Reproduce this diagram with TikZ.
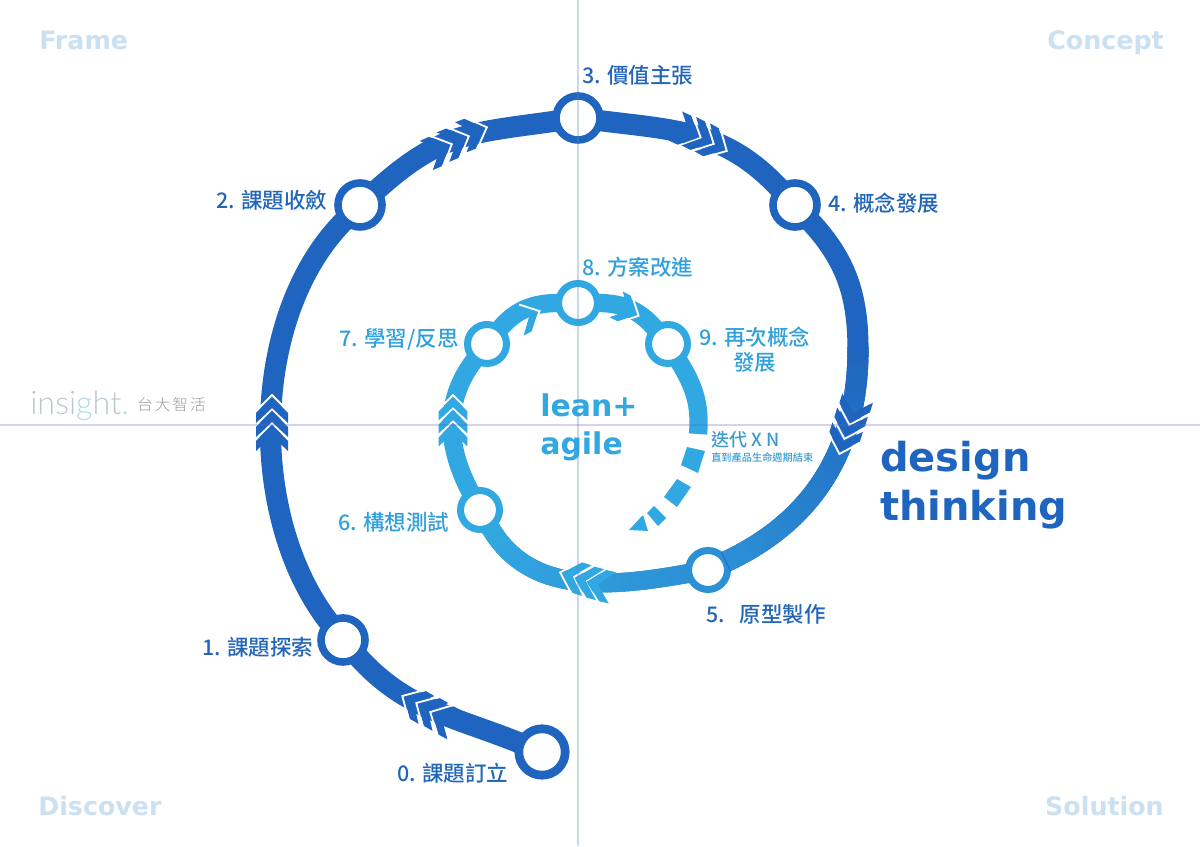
\documentclass[tikz,border=0pt]{standalone}
\usepackage{fontspec}
\usetikzlibrary{decorations.markings}
\setmainfont{Noto Sans CJK TC Medium}
\newfontfamily\boldlatin{DejaVu Sans Bold}
\newfontfamily\logofont{Lato Light}
\newfontfamily\logocjk[LetterSpace=14]{Noto Sans CJK TC Light}
\definecolor{design}{HTML}{1F64BE}
\definecolor{midblue}{HTML}{2C90D5}
\definecolor{lean}{HTML}{31A8E1}
\definecolor{designtext}{HTML}{2366B8}
\definecolor{leantext}{HTML}{30A0DC}
\definecolor{corner}{HTML}{CBE0F1}
\definecolor{logogray}{HTML}{BCC7D0}
\definecolor{logoblue}{HTML}{B5D7E8}
\definecolor{guidev}{HTML}{5A8AC0}
\definecolor{guideh}{HTML}{6A60C8}
\tikzset{
  band/.style={line width=#1, line cap=butt},
  ringnode/.style={circle, fill=white, draw=#1, line width=5.4pt, minimum size=31.3pt, inner sep=0pt, outer sep=0pt},
  smallring/.style={circle, fill=white, draw=#1, line width=5pt, minimum size=27.7pt, inner sep=0pt, outer sep=0pt},
  steplabel/.style={font=\fontsize{15.3}{18}\selectfont, text=#1, inner sep=0pt, anchor=west},
  cornerlabel/.style={font=\boldlatin\fontsize{18}{20}\selectfont, text=corner, inner sep=0pt},
  fadeband/.style n args={3}{postaction={decorate, decoration={markings,
    mark=between positions 0 and 1 step 3pt with {
      \pgfmathsetmacro\fademix{min(100,(\pgfkeysvalueof{/pgf/decoration/mark info/distance from start}/\pgfdecoratedpathlength)*100)}
      \fill[#2!\fademix!#1] (-2pt,-#3) rectangle (2pt,#3);
    }}}},
  chevron/.pic={
    \fill[pic actions] (0,0) -- (-16,16) -- (-26,16) -- (-11,0) -- (-26,-16) -- (-16,-16) -- cycle;
    \draw[white, line width=1.3pt, line join=miter] (-15,17) -- (2,0) -- (-15,-17);
  }
}
\begin{document}
\begin{tikzpicture}[x=0.025cm, y=0.025cm]
    \useasboundingbox (0,0) rectangle (1200,846);
    \coordinate (guidetop) at (578,846);
    \coordinate (guidebottom) at (578,0);
    \coordinate (guideleft) at (0,421);
    \coordinate (guideright) at (1200,421);
    \coordinate (rightmost) at (858,496);
    \coordinate (spiralend) at (698,412);

    % outer loop
    \node[ringnode=design, minimum size=33pt, line width=6.2pt] (n0) at (542,94) {};
    \node[ringnode=design] (n1) at (343,206) {};
    \node[ringnode=design] (n2) at (360,641) {};
    \node[ringnode=design] (n3) at (578,728) {};
    \node[ringnode=design] (n4) at (795,641) {};
    \node[smallring=midblue] (n5) at (708,276) {};
    % inner loop
    \node[smallring=lean] (n6) at (480,336) {};
    \node[smallring=lean] (n7) at (487,502) {};
    \node[smallring=lean] (n8) at (578,543) {};
    \node[smallring=lean] (n9) at (668,502) {};

    \draw[band=15pt, design] (n0) to[out=158, in=-48] (n1);
    \draw[band=15pt, design] (n1) to[out=128, in=-135, looseness=0.85] (n2);
    \draw[band=15pt, design] (n2) to[out=42, in=188, looseness=1.15] (n3);
    \draw[band=15pt, design] (n3) to[out=-7, in=133, looseness=1.05] (n4);
    \draw[band=15pt, design] (n4) to[out=-47, in=90] (rightmost);
    \draw[band=15pt, design, fadeband={design}{midblue}{7.5pt}] (rightmost) to[out=-90, in=25] (n5);
    \draw[band=13.4pt, midblue, fadeband={midblue}{lean}{6.7pt}] (n5) to[out=190, in=-60] (n6);
    \draw[band=13pt, lean] (n6) to[out=118, in=-128] (n7);
    \draw[band=13pt, lean] (n7) to[out=50, in=180] (n8);
    \draw[band=13pt, lean] (n8) to[out=0, in=130] (n9);
    \draw[band=13pt, lean] (n9) to[out=-58, in=85] (spiralend);

    % broken tail of the spiral
    \fill[lean] (687,399) -- (705,395) -- (698,373) -- (681,381) -- cycle;
    \fill[lean] (677,367) -- (691,359) -- (677,339) -- (664,349) -- cycle;
    \fill[lean] (654,340) -- (666,328) -- (658,320) -- (647,333) -- cycle;
    \fill[lean] (643,331) -- (648,315) -- (629,316) -- cycle;

    % chevrons: x/y/heading/colour
    \foreach \cx/\cy/\heading/\cfill in {
      404/149/150/design, 418/142/150/design, 432/133/152/design,
      272/421/90/design, 272/435/90/design, 272/449/90/design,
      450/701/24/design, 467/709/23/design, 485/718/21/design,
      699/709/-25/design, 712/703/-27/design, 725/696/-29/design,
      850/423/-107/design, 845/409/-107/design, 840/394/-107/design,
      587/264/167/lean, 575/268/165/lean, 562/273/163/lean} {
      \pic[fill=\cfill, rotate=\heading] at (\cx,\cy) {chevron};
    }
    \foreach \cx/\cy/\heading in {453/423/90, 453/436/90, 453/449/90, 538/534/27, 637/531/-27} {
      \pic[fill=lean, rotate=\heading, scale=0.9] at (\cx,\cy) {chevron};
    }

    % labels
    \node[steplabel=designtext] (l0) at (397,73) {0. 課題訂立};
    \node[steplabel=designtext] (l1) at (202,199) {1. 課題探索};
    \node[steplabel=designtext] (l2) at (216,646) {2. 課題收斂};
    \node[steplabel=designtext] (l3) at (582,771) {3. 價值主張};
    \node[steplabel=designtext] (l4) at (828,643) {4. 概念發展};
    \node[steplabel=designtext] (l5) at (706,232) {5.\ \ \ 原型製作};
    \node[steplabel=leantext] (l6) at (338,324) {6. 構想測試};
    \node[steplabel=leantext] (l7) at (339,507) {7. 學習/反思};
    \node[steplabel=leantext] (l8) at (582,579) {8. 方案改進};
    \node[steplabel=leantext, align=center] (l9) at (699,496) {9. 再次概念\\發展};

    \node[font=\fontsize{12.8}{14}\selectfont, text=leantext!85!gray, inner sep=0pt, anchor=west] (iter) at (711,406) {迭代 X N};
    \node[font=\fontsize{7.25}{9}\selectfont, text=leantext!85!gray, inner sep=0pt, anchor=west] (iternote) at (711,388) {直到產品生命週期結束};

    \node[font=\boldlatin\fontsize{21.3}{27}\selectfont, text=lean, align=left, inner sep=0pt, anchor=west] (leanagile) at (540,419) {lean+\\agile};
    \node[font=\boldlatin\fontsize{28.4}{35}\selectfont, text=design, align=left, inner sep=0pt, anchor=west] (thinking) at (880,361) {design\\thinking};

    \node[cornerlabel, anchor=base west] (frame) at (39,796) {Frame};
    \node[cornerlabel, anchor=base east] (concept) at (1164,796) {Concept};
    \node[cornerlabel, anchor=base west] (discover) at (38,30) {Discover};
    \node[cornerlabel, anchor=base east] (solution) at (1164,30) {Solution};

    \node[font=\logofont\fontsize{23}{26}\selectfont, text=logogray, inner sep=0pt, anchor=west] (logo) at (30,440) {insi\textcolor{logoblue}{g}ht\textcolor{logoblue}{.}};
    \node[font=\logocjk\fontsize{11}{12}\selectfont, text=gray!80, inner sep=0pt, anchor=west] (logocn) at (137,441) {台大智活};

    % guide lines sit over everything
    \draw[line width=1.4pt, color=guidev, opacity=0.33] (guidetop) -- (guidebottom);
    \draw[line width=1.4pt, color=guideh, opacity=0.28] (guideleft) -- (guideright);
\end{tikzpicture}
\end{document}
